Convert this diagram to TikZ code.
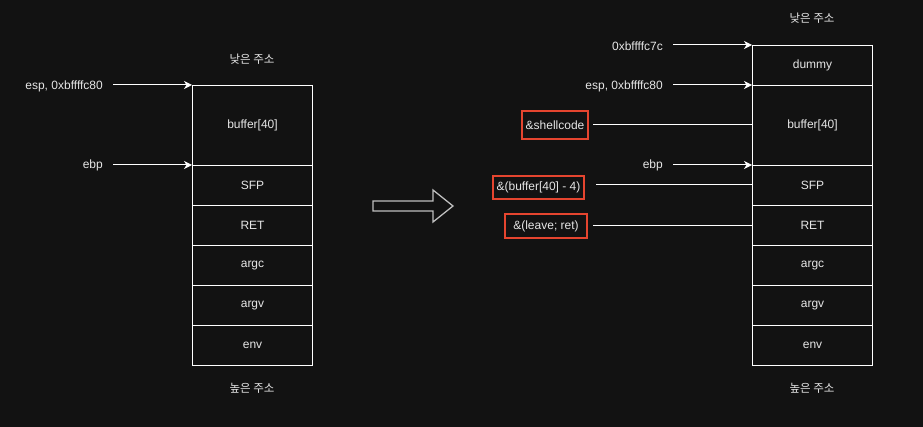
\documentclass[tikz,border=0pt]{standalone}
\usepackage{fontspec}
\setmainfont{Liberation Sans}
\newfontfamily\krfont{Noto Sans CJK KR}
\usetikzlibrary{arrows.meta}
\definecolor{bg}{HTML}{121212}
\definecolor{txt}{HTML}{E6E6E6}
\definecolor{redbox}{HTML}{E5452F}
\tikzset{
  x=1pt,y=-1pt,
  every node/.style={font=\fontsize{12}{14}\selectfont, text=txt},
  cell/.style={draw=white, line width=1pt, minimum width=120pt, inner sep=0pt, anchor=north west},
  lbl/.style={anchor=east, inner sep=0pt},
  kr/.style={font=\krfont\fontsize{11.5}{13}\selectfont, inner sep=0pt},
  ptr/.style={draw=white, line width=1pt, -{Stealth[length=8pt,width=8pt,inset=2.5pt,fill=white]}},
  ln/.style={draw=white, line width=1pt},
  hl/.style={draw=redbox, line width=2pt, inner sep=0pt, minimum height=24pt, text=txt}
}
\begin{document}
\begin{tikzpicture}
\useasboundingbox[fill=bg] (0,0) rectangle (923,427);
% left stack
\node[cell, minimum height=80pt] (lbuf) at (192,85) {buffer[40]};
\node[cell, minimum height=40pt] (lsfp) at (192,165) {SFP};
\node[cell, minimum height=40pt] (lret) at (192,205) {RET};
\node[cell, minimum height=40pt] (largc) at (192,245) {argc};
\node[cell, minimum height=40pt] (largv) at (192,285) {argv};
\node[cell, minimum height=40pt] (lenv) at (192,325) {env};
\node[kr] (llow) at (252,59) {낮은 주소};
\node[kr] (lhigh) at (252,388) {높은 주소};
\node[lbl] (lesp) at (103,86) {esp, 0xbffffc80};
\node[lbl] (lebp) at (103,165) {ebp};
\coordinate (lespS) at (113,85);
\coordinate (lebpS) at (113,165);
\draw[ptr] (lespS) -- (lbuf.north west);
\draw[ptr] (lebpS) -- (lsfp.north west);
% hollow arrow
\draw[draw=white!75!black, line width=1.3pt, line join=miter]
  (373,201) -- (433,201) -- (433,190) -- (453,206) -- (433,222) -- (433,211) -- (373,211) -- cycle;
% right stack
\node[cell, minimum height=40pt] (rdum) at (752,45) {dummy};
\node[cell, minimum height=80pt] (rbuf) at (752,85) {buffer[40]};
\node[cell, minimum height=40pt] (rsfp) at (752,165) {SFP};
\node[cell, minimum height=40pt] (rret) at (752,205) {RET};
\node[cell, minimum height=40pt] (rargc) at (752,245) {argc};
\node[cell, minimum height=40pt] (rargv) at (752,285) {argv};
\node[cell, minimum height=40pt] (renv) at (752,325) {env};
\node[kr] (rlow) at (812,18) {낮은 주소};
\node[kr] (rhigh) at (812,388) {높은 주소};
\node[lbl] (r7c) at (663,46) {0xbffffc7c};
\node[lbl] (resp) at (663,86) {esp, 0xbffffc80};
\node[lbl] (rebp) at (663,165) {ebp};
\coordinate (r7cS) at (673,45);
\coordinate (respS) at (673,85);
\coordinate (rebpS) at (673,165);
\draw[ptr] (r7cS) -- (rdum.north west);
\draw[ptr] (respS) -- (rbuf.north west);
\draw[ptr] (rebpS) -- (rsfp.north west);
\node[hl, minimum width=66pt, minimum height=28pt] (sc) at (555,125) {\&shellcode};
\node[hl, minimum width=91pt, minimum height=23pt] (bm4) at (538.5,187.5) {\&(buffer[40] - 4)};
\node[hl, minimum width=82pt, minimum height=24pt] (lr) at (546,226.5) {\&(leave; ret)};
\coordinate (scE) at (752,125);
\coordinate (bm4E) at (752,185);
\coordinate (lrE) at (752,226);
\draw[ln] (593,125) -- (scE);
\draw[ln] (596,185) -- (bm4E);
\draw[ln] (593,226) -- (lrE);
\end{tikzpicture}
\end{document}
